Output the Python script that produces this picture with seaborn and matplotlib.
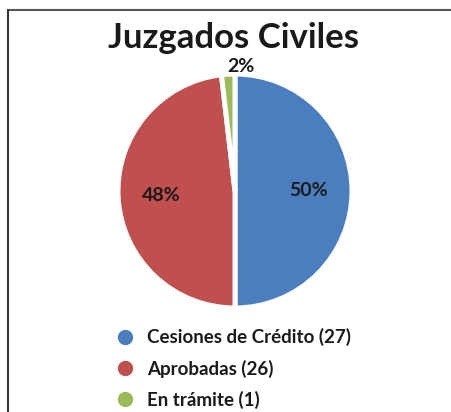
import numpy as np
import matplotlib
matplotlib.use("Agg")
import matplotlib.pyplot as plt
from matplotlib.lines import Line2D
import seaborn as sns

# ---- data ----
categories = ["Cesiones de Crédito", "Aprobadas", "En trámite"]
values = [27, 26, 1]
pct_labels = ["50%", "48%", "2%"]
title = "Juzgados Civiles"
colors = ["#4A7EBF", "#C0504D", "#9BBB59"]

sns.set_theme(style="white")
plt.rcParams['font.family'] = ['Lato', 'DejaVu Sans']

fig = plt.figure(figsize=(4.51, 4.12), dpi=100)
fig.patch.set_facecolor("white")

W, H = 451, 412
cx, cy, r = 235, 191, 117
ax = fig.add_axes([(cx - r) / W, (H - cy - r) / H, 2 * r / W, 2 * r / H])

wedges, _ = ax.pie(values, colors=colors, startangle=90, counterclock=False,
                   radius=1, wedgeprops=dict(edgecolor="white", linewidth=3.6))
ax.set_xlim(-1, 1)
ax.set_ylim(-1, 1)
ax.set_aspect("equal")
ax.axis("off")

# percentage labels
for w, lab, v in zip(wedges, pct_labels, values):
    mid = np.deg2rad((w.theta1 + w.theta2) / 2)
    frac = v / sum(values)
    if frac < 0.05:
        ax.text(1.07 * np.cos(mid), 1.07 * np.sin(mid), lab, ha="left", va="center",
                fontsize=14, fontweight="bold", color="#1a1a1a")
    else:
        ax.text(0.63 * np.cos(mid), 0.63 * np.sin(mid), lab, ha="center", va="center",
                fontsize=14, fontweight="bold", color="#1a1a1a")

fig.text(0.517, 0.907, title, ha="center", va="center", fontsize=25,
         fontweight="bold", color="#1a1a1a")

handles = [Line2D([], [], marker="o", ls="", color=c, markersize=10) for c in colors]
labels = [f"{c} ({v})" for c, v in zip(categories, values)]
fig.legend(handles, labels, loc="upper left", bbox_to_anchor=(0.253, 0.203),
           frameon=False, prop=dict(size=13.5, weight="bold"),
           handletextpad=0.55, labelspacing=0.7, borderpad=0, borderaxespad=0,
           handlelength=1.2, labelcolor="#1a1a1a")

# frame lines (top and left)
fig.add_artist(Line2D([8 / W, 1], [1 - 10 / H, 1 - 10 / H], transform=fig.transFigure,
                      color="#555555", lw=1.5))
fig.add_artist(Line2D([8 / W, 8 / W], [0, 1 - 10 / H], transform=fig.transFigure,
                      color="#333333", lw=1.5))

fig.savefig("out.png", dpi=100, facecolor="white")
